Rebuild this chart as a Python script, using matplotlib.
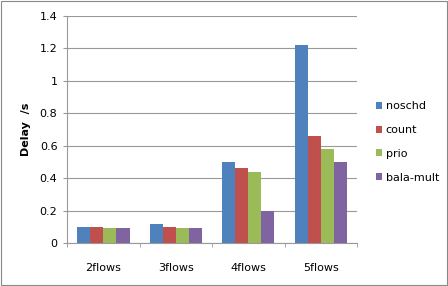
import matplotlib
matplotlib.use('Agg')
import matplotlib.pyplot as plt
import numpy as np

categories = ['2flows', '3flows', '4flows', '5flows']
series = ['noschd', 'count', 'prio', 'bala-mult']
noschd = [0.10, 0.12, 0.50, 1.22]
count = [0.10, 0.10, 0.46, 0.66]
prio = [0.095, 0.095, 0.44, 0.58]
bala_mult = [0.09, 0.095, 0.20, 0.50]
colors = ['#4F81BD', '#C0504D', '#9BBB59', '#8064A2']

plt.rcParams['font.family'] = ['DejaVu Sans']

fig = plt.figure(figsize=(4.48, 2.86), dpi=100)
ax = fig.add_axes([0.150, 0.150, 0.647, 0.795])

x = np.arange(len(categories))
w = 0.18
data = [noschd, count, prio, bala_mult]
for i, (vals, name) in enumerate(zip(data, series)):
    ax.bar(x + (i - 1.5) * w, vals, w, color=colors[i], label=name, zorder=3)

ax.set_xlim(-0.5, 3.5)
ax.set_ylim(0, 1.4)
ax.set_yticks(np.arange(0, 1.41, 0.2))
ax.set_yticklabels(['0', '0.2', '0.4', '0.6', '0.8', '1', '1.2', '1.4'])
ax.set_xticks(x)
ax.set_xticklabels(categories)
ax.set_xticks(np.arange(-0.5, 3.6, 1), minor=True)
ax.tick_params(axis='x', which='major', length=0, pad=14, labelsize=8)
ax.tick_params(axis='x', which='minor', length=3, color='#999999')
ax.tick_params(axis='y', length=3, color='#999999', labelsize=8, pad=4)
ax.yaxis.grid(True, color='#999999', linewidth=0.8, zorder=0)
for s in ['top', 'right']:
    ax.spines[s].set_visible(False)
for s in ['left', 'bottom']:
    ax.spines[s].set_color('#999999')

ax.set_ylabel('Delay  /s', fontsize=8, fontweight='bold', labelpad=6)

ax.legend(loc='center left', bbox_to_anchor=(1.03, 0.445), frameon=False,
          fontsize=8, handlelength=0.6, handleheight=0.6, handletextpad=0.3,
          labelspacing=1.25)

fig.patches.append(plt.Rectangle((0.002, 0.003), 0.995, 0.994, transform=fig.transFigure,
                                 fill=False, edgecolor='#888888', linewidth=0.8))

fig.savefig('out.png', dpi=100)
